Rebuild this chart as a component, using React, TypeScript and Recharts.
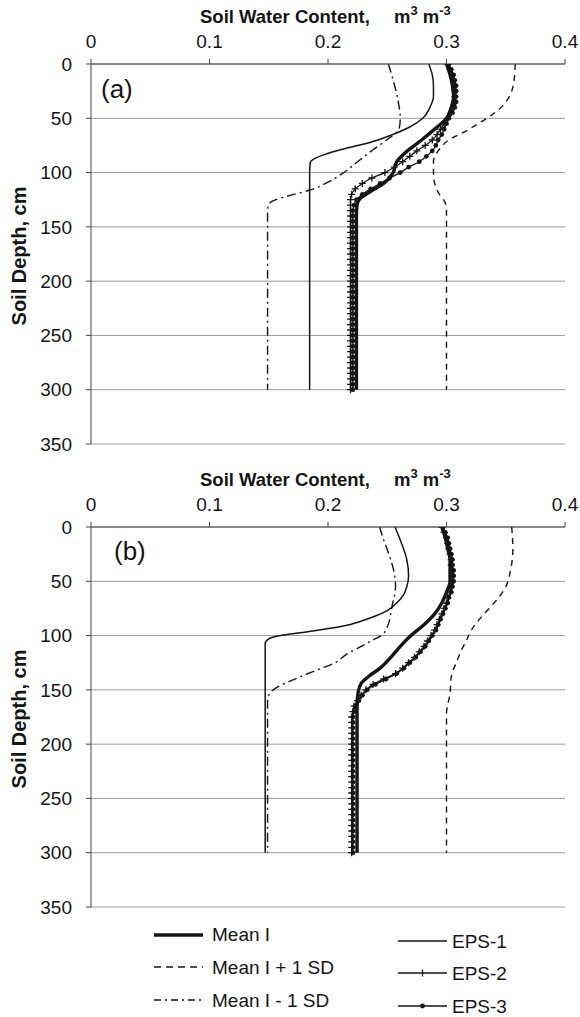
import React from "react"
import {
  LineChart,
  Line,
  XAxis,
  YAxis,
  CartesianGrid,
} from "recharts"

// x axis: soil water content (m3 m-3), y axis: depth (cm, down)
const swcTicks = [0, 0.1, 0.2, 0.3, 0.4]
const depthTicks = [0, 50, 100, 150, 200, 250, 300, 350]

// depths shared by the marker series (5 cm steps)
const depthStep = [
  0, 5, 10, 15, 20, 25, 30, 35, 40, 45, 50, 55, 60, 65, 70, 75, 80, 85, 90, 95,
  100, 105, 110, 115, 120, 125, 130, 135, 140, 145, 150, 155, 160, 165, 170, 175,
  180, 185, 190, 195, 200, 205, 210, 215, 220, 225, 230, 235, 240, 245, 250, 255,
  260, 265, 270, 275, 280, 285, 290, 295, 300,
]

// ---- panel (a)
const meanDepthA = [0, 10, 20, 30, 40, 50, 60, 70, 80, 90, 100, 110, 118, 124, 130, 140, 300]
const meanA = [0.3, 0.303, 0.305, 0.306, 0.304, 0.3, 0.29, 0.279, 0.267, 0.258, 0.255, 0.247, 0.235, 0.227, 0.2245, 0.224, 0.224]

const plusDepthA = [0, 15, 30, 40, 50, 56, 62, 70, 80, 90, 100, 110, 120, 128, 135, 300]
const plusA = [0.358, 0.357, 0.353, 0.346, 0.334, 0.325, 0.316, 0.302, 0.293, 0.289, 0.289, 0.29, 0.294, 0.299, 0.3, 0.3]

const minusDepthA = [0, 15, 33, 50, 60, 68, 79, 90, 101, 110, 116, 121, 125, 130, 140, 300]
const minusA = [0.251, 0.255, 0.259, 0.261, 0.26, 0.252, 0.238, 0.225, 0.212, 0.198, 0.185, 0.168, 0.156, 0.1495, 0.149, 0.149]

const eps1DepthA = [0, 10, 20, 30, 40, 50, 58, 66, 72, 78, 83, 87, 91, 100, 300]
const eps1A = [0.285, 0.288, 0.289, 0.289, 0.286, 0.28, 0.269, 0.252, 0.236, 0.214, 0.198, 0.189, 0.185, 0.1845, 0.1845]

const eps2A = [
  0.301, 0.303, 0.305, 0.306, 0.307, 0.307, 0.307, 0.307, 0.306, 0.304, 0.301, 0.298,
  0.295, 0.292, 0.288, 0.282, 0.275, 0.269, 0.263, 0.256, 0.248, 0.237, 0.229, 0.223,
  0.22, 0.219, 0.219, 0.219, 0.219, 0.219, 0.219, 0.219, 0.219, 0.219, 0.219, 0.219,
  0.219, 0.219, 0.219, 0.219, 0.219, 0.219, 0.219, 0.219, 0.219, 0.219, 0.219, 0.219,
  0.219, 0.219, 0.219, 0.219, 0.219, 0.219, 0.219, 0.219, 0.219, 0.219, 0.219, 0.219,
  0.219,
]
const eps3A = [
  0.302, 0.304, 0.306, 0.307, 0.308, 0.308, 0.308, 0.308, 0.307, 0.305, 0.302, 0.3,
  0.298, 0.296, 0.293, 0.291, 0.288, 0.283, 0.277, 0.268, 0.261, 0.252, 0.244, 0.236,
  0.229, 0.224, 0.222, 0.221, 0.221, 0.221, 0.221, 0.221, 0.221, 0.221, 0.221, 0.221,
  0.221, 0.221, 0.221, 0.221, 0.221, 0.221, 0.221, 0.221, 0.221, 0.221, 0.221, 0.221,
  0.221, 0.221, 0.221, 0.221, 0.221, 0.221, 0.221, 0.221, 0.221, 0.221, 0.221, 0.221,
  0.221,
]

// ---- panel (b)
const meanDepthB = [0, 10, 20, 30, 40, 50, 60, 70, 80, 90, 100, 110, 120, 130, 137, 144, 152, 165, 300]
const meanB = [0.296, 0.299, 0.301, 0.303, 0.303, 0.303, 0.3, 0.296, 0.29, 0.281, 0.27, 0.261, 0.253, 0.244, 0.235, 0.228, 0.2255, 0.2245, 0.2245]

const plusDepthB = [0, 20, 40, 55, 65, 75, 86, 95, 104, 115, 123, 138, 153, 172, 300]
const plusB = [0.355, 0.356, 0.354, 0.35, 0.344, 0.336, 0.327, 0.321, 0.317, 0.312, 0.309, 0.304, 0.303, 0.3, 0.3]

const minusDepthB = [0, 12, 24, 43, 55, 73, 92, 100, 104, 110, 117, 125, 132, 141, 147, 153, 160, 300]
const minusB = [0.2435, 0.247, 0.251, 0.256, 0.257, 0.254, 0.25, 0.245, 0.238, 0.228, 0.216, 0.206, 0.19, 0.17, 0.158, 0.151, 0.149, 0.149]

const eps1DepthB = [0, 12, 30, 45, 55, 62, 70, 77, 82, 87, 91, 94, 97, 100, 103, 107, 300]
const eps1B = [0.2565, 0.261, 0.2665, 0.268, 0.2665, 0.264, 0.258, 0.25, 0.24, 0.227, 0.214, 0.198, 0.18, 0.16, 0.15, 0.147, 0.147]

const eps2B = [
  0.296, 0.298, 0.3, 0.301, 0.302, 0.303, 0.304, 0.304, 0.305, 0.305, 0.305, 0.304,
  0.303, 0.301, 0.3, 0.298, 0.296, 0.294, 0.292, 0.29, 0.287, 0.284, 0.281, 0.277,
  0.273, 0.268, 0.263, 0.257, 0.247, 0.238, 0.232, 0.228, 0.225, 0.222, 0.221, 0.22,
  0.22, 0.22, 0.22, 0.22, 0.22, 0.22, 0.22, 0.22, 0.22, 0.22, 0.22, 0.22,
  0.22, 0.22, 0.22, 0.22, 0.22, 0.22, 0.22, 0.22, 0.22, 0.22, 0.22, 0.22,
  0.22,
]
const eps3B = [
  0.297, 0.299, 0.301, 0.302, 0.303, 0.304, 0.305, 0.305, 0.306, 0.306, 0.306, 0.305,
  0.304, 0.302, 0.301, 0.299, 0.297, 0.295, 0.293, 0.291, 0.288, 0.285, 0.282, 0.278,
  0.274, 0.269, 0.264, 0.258, 0.249, 0.24, 0.233, 0.229, 0.226, 0.223, 0.222, 0.221,
  0.221, 0.221, 0.221, 0.221, 0.221, 0.221, 0.221, 0.221, 0.221, 0.221, 0.221, 0.221,
  0.221, 0.221, 0.221, 0.221, 0.221, 0.221, 0.221, 0.221, 0.221, 0.221, 0.221, 0.221,
  0.221,
]

const INK = "#151515"
const FONT = '"Liberation Sans", Arial, sans-serif'

const pts = (depths: number[], vals: number[]) =>
  depths.map((d, i) => ({ depth: d, swc: vals[i] }))

const plusDot = (p: any) => (
  <path
    key={`p${p.index}`}
    d={`M${p.cx - 3.5},${p.cy}H${p.cx + 3.5}M${p.cx},${p.cy - 3.5}V${p.cy + 3.5}`}
    stroke={INK}
    strokeWidth={1.3}
    fill="none"
  />
)

const roundDot = (p: any) => (
  <circle key={`c${p.index}`} cx={p.cx} cy={p.cy} r={2.4} fill={INK} />
)

type PanelProps = {
  top: number
  mean: any[]
  plus: any[]
  minus: any[]
  eps1: any[]
  eps2: any[]
  eps3: any[]
}

function Panel({ top, mean, plus, minus, eps1, eps2, eps3 }: PanelProps) {
  return (
    <div style={{ position: "absolute", left: 0, top, width: 580, height: 460 }}>
      <LineChart
        width={580}
        height={460}
        layout="vertical"
        margin={{ top: 34, right: 15, bottom: 16, left: 31 }}
      >
        <CartesianGrid horizontal vertical={false} stroke="#9a9a9a" strokeWidth={1} />
        <XAxis
          type="number"
          orientation="top"
          domain={[0, 0.4]}
          ticks={swcTicks}
          allowDataOverflow
          height={30}
          tickSize={5}
          tickMargin={11}
          stroke="#444"
          tick={{ fill: INK, fontSize: 19, fontFamily: FONT }}
        />
        <YAxis
          type="number"
          dataKey="depth"
          domain={[0, 350]}
          ticks={depthTicks}
          allowDataOverflow
          width={60}
          tickSize={5}
          tickMargin={14}
          stroke="#444"
          tick={{ fill: INK, fontSize: 19, fontFamily: FONT }}
        />
        <Line data={plus} dataKey="swc" type="monotone" stroke={INK} strokeWidth={1.4}
          strokeDasharray="6 5" dot={false} activeDot={false} isAnimationActive={false} />
        <Line data={minus} dataKey="swc" type="monotone" stroke={INK} strokeWidth={1.4}
          strokeDasharray="9 4 2 4" dot={false} activeDot={false} isAnimationActive={false} />
        <Line data={eps1} dataKey="swc" type="monotone" stroke={INK} strokeWidth={1.5}
          dot={false} activeDot={false} isAnimationActive={false} />
        <Line data={eps2} dataKey="swc" type="monotone" stroke={INK} strokeWidth={1.3}
          dot={plusDot} activeDot={false} isAnimationActive={false} />
        <Line data={eps3} dataKey="swc" type="monotone" stroke={INK} strokeWidth={1.3}
          dot={roundDot} activeDot={false} isAnimationActive={false} />
        <Line data={mean} dataKey="swc" type="monotone" stroke={INK} strokeWidth={3.4}
          dot={false} activeDot={false} isAnimationActive={false} />
      </LineChart>
    </div>
  )
}

function Title({ y }: { y: number }) {
  return (
    <g fontFamily={FONT} fontWeight="bold" fontSize={18.5} fill={INK}>
      <text x={200} y={y}>Soil Water Content,</text>
      <text x={394} y={y}>
        m<tspan fontSize={13} dy={-8}>3</tspan>
        <tspan dy={8}> m</tspan>
        <tspan fontSize={13} dy={-8}>-3</tspan>
      </text>
    </g>
  )
}

function DepthLabel({ y }: { y: number }) {
  return (
    <text
      transform={`translate(26,${y}) rotate(-90)`}
      textAnchor="middle"
      fontFamily={FONT}
      fontWeight="bold"
      fontSize={20}
      fill={INK}
    >
      Soil Depth, cm
    </text>
  )
}

export default function App() {
  return (
    <div
      style={{
        position: "absolute",
        left: 0,
        top: 0,
        width: 580,
        height: 1017,
        background: "#fff",
        fontFamily: FONT,
      }}
    >
      <Panel
        top={0}
        mean={pts(meanDepthA, meanA)}
        plus={pts(plusDepthA, plusA)}
        minus={pts(minusDepthA, minusA)}
        eps1={pts(eps1DepthA, eps1A)}
        eps2={pts(depthStep, eps2A)}
        eps3={pts(depthStep, eps3A)}
      />
      <Panel
        top={463}
        mean={pts(meanDepthB, meanB)}
        plus={pts(plusDepthB, plusB)}
        minus={pts(minusDepthB, minusB)}
        eps1={pts(eps1DepthB, eps1B)}
        eps2={pts(depthStep, eps2B)}
        eps3={pts(depthStep, eps3B)}
      />

      <svg
        width={580}
        height={1017}
        style={{ position: "absolute", left: 0, top: 0, pointerEvents: "none" }}
      >
        <Title y={23} />
        <Title y={486} />
        <DepthLabel y={256} />
        <DepthLabel y={719} />
        <text x={101} y={98} fontFamily={FONT} fontSize={26} fill={INK}>(a)</text>
        <text x={114} y={560} fontFamily={FONT} fontSize={26} fill={INK}>(b)</text>

        <g fontFamily={FONT} fontSize={19} fill={INK} stroke={INK}>
          <line x1={154} x2={203} y1={935} y2={935} strokeWidth={3.4} />
          <line x1={154} x2={203} y1={967} y2={967} strokeWidth={1.4} strokeDasharray="7 5" />
          <line x1={154} x2={203} y1={1000} y2={1000} strokeWidth={1.4} strokeDasharray="7 4 2 4" />
          <text x={212} y={941} stroke="none">Mean I</text>
          <text x={212} y={974} stroke="none">Mean I + 1 SD</text>
          <text x={212} y={1007} stroke="none">Mean I - 1 SD</text>

          <line x1={398} x2={447} y1={941} y2={941} strokeWidth={1.5} />
          <line x1={398} x2={447} y1={973} y2={973} strokeWidth={1.4} />
          <path d="M422.5,969.5V976.5" strokeWidth={1.3} />
          <line x1={398} x2={447} y1={1006} y2={1006} strokeWidth={1.4} />
          <circle cx={422.5} cy={1006} r={2.4} stroke="none" />
          <text x={452} y={948} stroke="none">EPS-1</text>
          <text x={452} y={980} stroke="none">EPS-2</text>
          <text x={452} y={1013} stroke="none">EPS-3</text>
        </g>
      </svg>
    </div>
  )
}
